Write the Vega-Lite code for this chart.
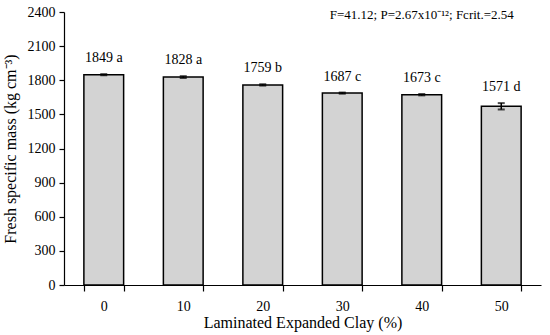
{
  "$schema": "https://vega.github.io/schema/vega-lite/v6.json",
  "autosize": "none",
  "width": 477,
  "height": 273,
  "padding": {"left": 64, "top": 12, "right": 9, "bottom": 50},
  "config": {
    "font": "Liberation Serif",
    "view": {"stroke": null},
    "axis": {"labelFont": "Liberation Serif", "titleFont": "Liberation Serif", "labelFontSize": 14, "titleFontSize": 16, "titleFontWeight": "normal", "labelColor": "#000", "titleColor": "#000", "domainColor": "#000", "tickColor": "#000", "grid": false, "domainWidth": 1.2, "tickWidth": 1.2},
    "axisY": {"format": "d", "labelOverlap": false, "tickSize": 5, "labelPadding": 4, "titlePadding": 9}
  },
  "data": {
    "values": [
      {"clay": "0", "mass": 1849, "err": 5, "label": "1849 a"},
      {"clay": "10", "mass": 1828, "err": 8, "label": "1828 a"},
      {"clay": "20", "mass": 1759, "err": 6, "label": "1759 b"},
      {"clay": "30", "mass": 1687, "err": 5, "label": "1687 c"},
      {"clay": "40", "mass": 1673, "err": 6, "label": "1673 c"},
      {"clay": "50", "mass": 1571, "err": 28, "label": "1571 d"}
    ]
  },
  "transform": [
    {"calculate": "datum.mass - datum.err", "as": "lo"},
    {"calculate": "datum.mass + datum.err", "as": "hi"}
  ],
  "encoding": {
    "x": {"field": "clay", "type": "ordinal", "sort": null, "scale": {"paddingInner": 0.5, "paddingOuter": 0.25},
      "axis": {"title": "Laminated Expanded Clay (%)", "labelAngle": 0, "tickBand": "extent", "tickSize": 6, "labelPadding": 8, "titlePadding": 1}}
  },
  "layer": [
    {
      "mark": {"type": "bar", "fill": "#d3d3d3", "stroke": "#000", "strokeWidth": 1.5},
      "encoding": {
        "y": {"field": "mass", "type": "quantitative", "scale": {"domain": [0, 2400]},
          "axis": {"title": "Fresh specific mass (kg cm⁻³)", "values": [0, 300, 600, 900, 1200, 1500, 1800, 2100, 2400]}}
      }
    },
    {
      "mark": {"type": "rule", "color": "#000", "strokeWidth": 1.5},
      "encoding": {"y": {"field": "lo", "type": "quantitative", "axis": {"title": "Fresh specific mass (kg cm⁻³)", "values": [0, 300, 600, 900, 1200, 1500, 1800, 2100, 2400]}}, "y2": {"field": "hi"}}
    },
    {
      "mark": {"type": "tick", "color": "#000", "size": 7, "thickness": 2},
      "encoding": {"y": {"field": "lo", "type": "quantitative", "axis": {"title": "Fresh specific mass (kg cm⁻³)", "values": [0, 300, 600, 900, 1200, 1500, 1800, 2100, 2400]}}}
    },
    {
      "mark": {"type": "tick", "color": "#000", "size": 7, "thickness": 2},
      "encoding": {"y": {"field": "hi", "type": "quantitative", "axis": {"title": "Fresh specific mass (kg cm⁻³)", "values": [0, 300, 600, 900, 1200, 1500, 1800, 2100, 2400]}}}
    },
    {
      "mark": {"type": "text", "fontSize": 14, "baseline": "bottom", "dy": -9, "color": "#000"},
      "encoding": {"y": {"field": "hi", "type": "quantitative", "axis": {"title": "Fresh specific mass (kg cm⁻³)", "values": [0, 300, 600, 900, 1200, 1500, 1800, 2100, 2400]}}, "text": {"field": "label"}}
    },
    {
      "data": {"values": [{"clay": "40", "y": 2400, "note": "F=41.12; P=2.67x10⁻¹²; Fcrit.=2.54"}]},
      "mark": {"type": "text", "fontSize": 13, "baseline": "middle", "dy": 3, "color": "#000"},
      "encoding": {"y": {"field": "y", "type": "quantitative", "axis": {"title": "Fresh specific mass (kg cm⁻³)", "values": [0, 300, 600, 900, 1200, 1500, 1800, 2100, 2400]}}, "text": {"field": "note"}}
    }
  ]
}
